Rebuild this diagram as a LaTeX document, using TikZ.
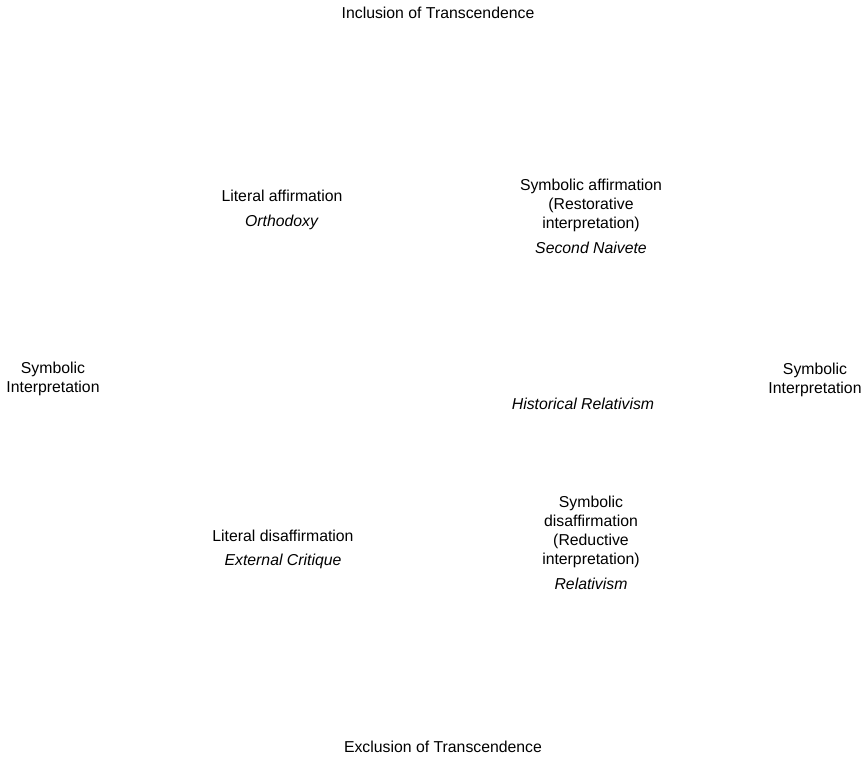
\documentclass[tikz,border=0pt]{standalone}
\usepackage{fontspec}
\setmainfont{Liberation Sans}
\begin{document}
\begin{tikzpicture}[x=1pt,y=-1pt,
  lbl/.style={inner sep=0pt, align=center, font=\fontsize{15.8}{19}\selectfont}]
\useasboundingbox[fill=white] (0,0) rectangle (865,757);
\node[lbl] (incl) at (438,13) {Inclusion of Transcendence};
\node[lbl] (litaff) at (282,209.5) {Literal affirmation\\[6pt]\textit{Orthodoxy}};
\node[lbl] (symaff) at (591,216.5) {Symbolic affirmation\\(Restorative\\interpretation)\\[6pt]\textit{Second Naivete}};
\node[lbl] (left) at (53,378.5) {Symbolic\\Interpretation};
\node[lbl] (right) at (815,379.5) {Symbolic\\Interpretation};
\node[lbl] (hist) at (583,404) {\textit{Historical Relativism}};
\node[lbl] (litdis) at (283,549) {Literal disaffirmation\\[5pt]\textit{External Critique}};
\node[lbl] (symdis) at (591,543) {Symbolic\\disaffirmation\\(Reductive\\interpretation)\\[6pt]\textit{Relativism}};
\node[lbl] (excl) at (443,747) {Exclusion of Transcendence};
\end{tikzpicture}
\end{document}
